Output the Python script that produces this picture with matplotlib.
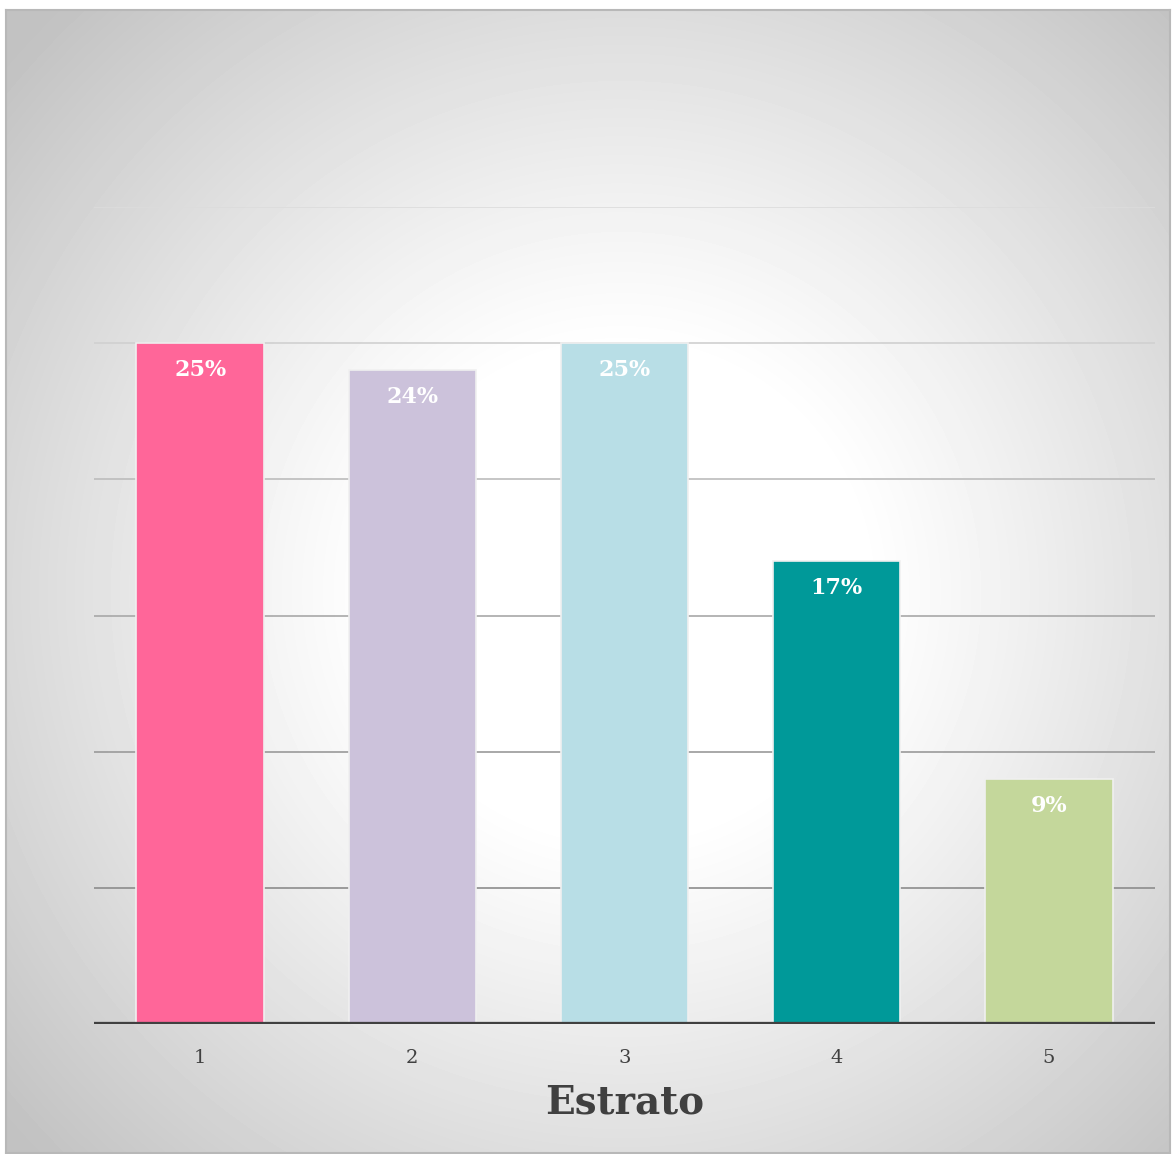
import numpy as np
from matplotlib import pyplot as plt

# Chart data
categories = ['1', '2', '3', '4', '5']
values = [25, 24, 25, 17, 9]
labels = ['25%', '24%', '25%', '17%', '9%']
colors = ['#FF6699', '#CCC2DB', '#B8DEE6', '#009999', '#C4D79B']

W, H, DPI = 1173, 1154, 100
fig = plt.figure(figsize=(W / DPI, H / DPI), dpi=DPI)
fig.patch.set_facecolor('white')

# radial gradient background for the chart area (pixel grid)
x0, y0, bw, bh = 6, 10, 1164, 1143
bg = fig.add_axes([x0 / W, 1 - (y0 + bh) / H, bw / W, bh / H])
yy, xx = np.mgrid[0:bh:3, 0:bw:3]
r = np.hypot(xx + x0 - 620, yy + y0 - 590)
t = np.clip((r - 240) / 350, 0, None)
shade = np.clip(1.0 - 0.14 * t ** 1.1, 0.76, 1.0)
bg.imshow(shade, cmap='gray', vmin=0, vmax=1, aspect='auto',
          interpolation='bilinear')
bg.set_xticks([])
bg.set_yticks([])
for sp in bg.spines.values():
    sp.set_color('#b8b8b8')
    sp.set_linewidth(1.5)

ax = fig.add_axes([94 / W, 1 - 1024 / H, (1155 - 94) / W, (1024 - 207) / H])
ax.patch.set_alpha(0)
x = np.arange(len(categories))
ax.set_xlim(-0.5, len(categories) - 0.5)
ax.set_ylim(0, 30)

# gridlines, lighter towards the top
grid_cols = ['#8c8c8c', '#9a9a9a', '#a8a8a8', '#bcbcbc', '#d0d0d0', '#dcdcdc']
for yv, gc in zip(range(5, 35, 5), grid_cols):
    ax.axhline(yv, color=gc, lw=1.2, zorder=1)

bars = ax.bar(x, values, width=0.6, color=colors, edgecolor='#f0f0f0',
              linewidth=1.2, zorder=2)
for b, lab in zip(bars, labels):
    ax.text(b.get_x() + b.get_width() / 2, b.get_height() - 0.98, lab,
            ha='center', va='center', color='white', fontsize=16,
            fontweight='bold', family='DejaVu Serif', zorder=3)

ax.axhline(0, color='#404040', lw=3.8, zorder=4)
for sp in ax.spines.values():
    sp.set_visible(False)
ax.set_yticks([])
ax.set_xticks(x)
ax.set_xticklabels(categories, family='DejaVu Serif', fontsize=14,
                   color='#404040')
ax.tick_params(axis='x', length=0, pad=18)
ax.set_xlabel('Estrato', family='DejaVu Serif', fontsize=28,
              fontweight='bold', color='#404040', labelpad=12)

fig.savefig('out.png', dpi=DPI)
